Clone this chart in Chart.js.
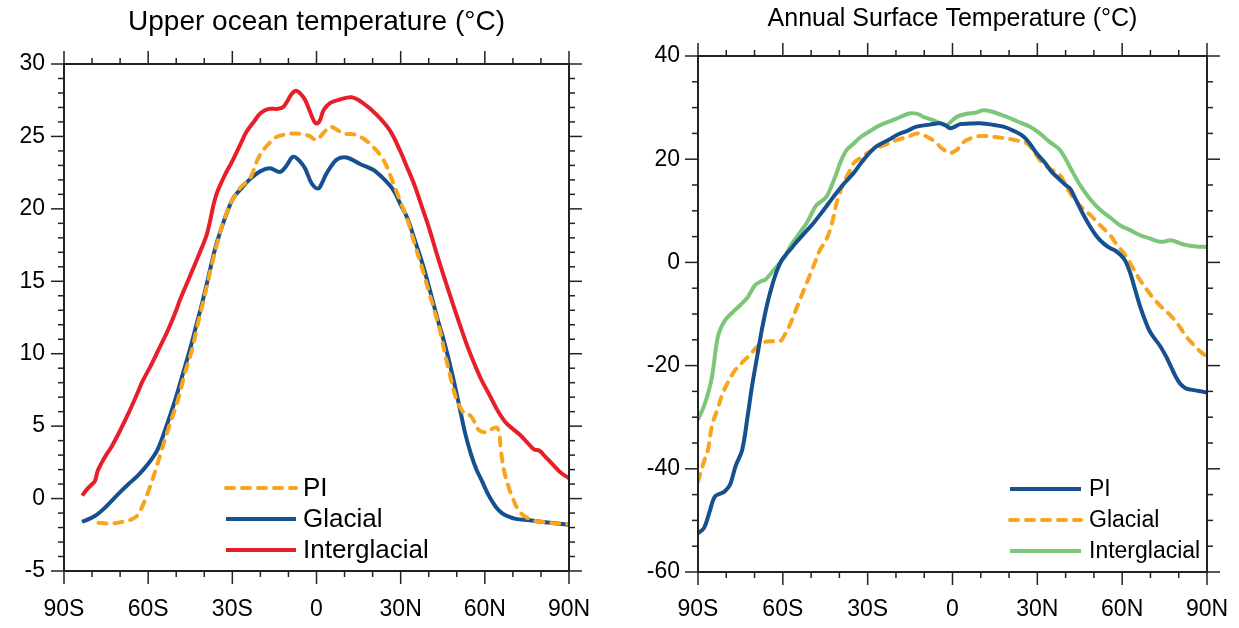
<!DOCTYPE html>
<html lang="en">
<head>
  <meta charset="UTF-8" />
  <title>Zonal mean temperature</title>
  <script src="https://cdn.jsdelivr.net/npm/chart.js"></script>
  <style>
    body { margin: 0; background: #fff; }
    .panel { position: absolute; top: 0; }
  </style>
</head>
<body>
  <div class="panel" style="left:0"><canvas id="oceanChart" width="620" height="628"></canvas></div>
  <div class="panel" style="left:620px"><canvas id="surfaceChart" width="619" height="628"></canvas></div>

  <script>
    // Latitude tick labels (shared by both panels)
    const latTicks = [-90, -60, -30, 0, 30, 60, 90];
    const latNames = ['90S', '60S', '30S', '0', '30N', '60N', '90N'];

    // --- Upper ocean temperature ---
    const oceanPiLat = [-77.7, -75, -72, -69, -67.9, -65.5, -63.6, -62, -60.1, -58.5, -57.3, -55.2, -52.5, -49.4, -47, -44.4, -42, -40, -37.5, -35, -33, -30, -27, -23.7, -21, -19, -16.5, -14.2, -12, -9.5, -7, -4.7, -2.3, 0, 2.3, 4.8, 7, 9.5, 14.3, 19, 23.8, 27.4, 29.7, 32.5, 35.1, 37.8, 40.4, 42.3, 44, 46, 47.6, 49, 50, 51.8, 53.3, 54.7, 56, 57.5, 59, 61, 62.5, 64.3, 65.2, 65.7, 67, 68.8, 70, 71.6, 74, 77.2, 80, 84.3, 90];
    const oceanPi = [-1.67, -1.72, -1.7, -1.6, -1.55, -1.4, -1.1, -0.5, 0.4, 1.3, 2.0, 3.35, 5.0, 6.8, 8.6, 10.25, 12.3, 13.9, 16.0, 17.9, 19.2, 20.6, 21.5, 22.1, 23.4, 24.05, 24.6, 24.97, 25.1, 25.2, 25.2, 25.16, 25.0, 24.75, 25.2, 25.66, 25.5, 25.2, 25.1, 24.5, 23.4, 21.75, 20.6, 19.2, 17.5, 15.8, 14.05, 12.8, 11.6, 9.8, 8.5, 7.4, 6.8, 6.1, 5.8, 5.75, 5.4, 4.8, 4.6, 4.6, 4.8, 4.9, 4.4, 3.35, 1.8, 0.6, 0.0, -0.67, -1.2, -1.5, -1.6, -1.7, -1.75];

    const oceanGlacialLat = [-83.6, -81, -78.5, -75.5, -72.5, -70, -67, -63.6, -60, -56.6, -53.5, -50.4, -47.5, -45.1, -42.8, -40.5, -38.3, -36.2, -34, -31.6, -29.5, -27.3, -24, -20, -16.6, -13, -11, -8.3, -6, -4.1, -1.7, 0.6, 2, 3.6, 7.2, 10.7, 15.5, 20.2, 23.8, 27.4, 29.7, 32.5, 35.1, 37.8, 40.4, 43, 45.8, 48.5, 51.1, 53, 55, 57, 59, 60.4, 62, 64, 66.1, 68.5, 71, 75.9, 80, 85, 90];
    const oceanGlacial = [-1.6, -1.4, -1.15, -0.65, -0.05, 0.45, 1.0, 1.6, 2.4, 3.4, 5.0, 6.8, 8.7, 10.3, 12.0, 13.7, 15.5, 17.2, 18.6, 19.9, 20.8, 21.3, 22.0, 22.6, 22.8, 22.55, 22.9, 23.6, 23.3, 22.8, 21.75, 21.4, 21.8, 22.45, 23.4, 23.55, 23.1, 22.7, 22.1, 21.3, 20.4, 19.3, 17.8, 16.2, 14.4, 12.5, 10.6, 8.5, 6.2, 4.5, 3.1, 2.0, 1.2, 0.6, 0.0, -0.6, -1.0, -1.25, -1.4, -1.5, -1.6, -1.7, -1.8];

    const oceanInterLat = [-83.5, -82, -80.5, -79, -78, -76.5, -75, -73, -70, -67, -64, -62, -59, -56.5, -53, -50, -48.7, -45, -42, -39, -36, -33, -30, -27, -25, -22, -20, -17, -14, -12, -10.5, -9, -7.3, -5.5, -4, -2.5, -1, 0, 1.2, 2.5, 4.8, 8.4, 12.5, 16.6, 21.4, 26.2, 29.7, 32, 35, 38, 40.4, 43, 45.8, 48.5, 51.1, 54, 56.5, 59, 61.8, 64.5, 67.2, 70, 72.5, 75, 77.5, 79.5, 81.5, 84, 87, 90];
    const oceanInter = [0.2, 0.6, 0.9, 1.2, 1.9, 2.5, 3.0, 3.6, 4.7, 5.9, 7.2, 8.1, 9.2, 10.2, 11.6, 13.0, 13.7, 15.4, 16.8, 18.3, 20.8, 22.2, 23.3, 24.5, 25.3, 26.1, 26.6, 26.9, 26.9, 27.0, 27.4, 27.9, 28.15, 27.9, 27.5, 26.8, 26.1, 25.9, 26.1, 26.8, 27.3, 27.55, 27.7, 27.3, 26.5, 25.4, 24.05, 23.0, 21.6, 19.9, 18.5, 16.8, 15.1, 13.5, 12.0, 10.4, 9.2, 8.1, 7.1, 6.1, 5.3, 4.8, 4.4, 3.9, 3.4, 3.3, 2.9, 2.4, 1.8, 1.4];

    // --- Annual surface temperature ---
    const surfPiLat = [-90, -87.9, -86, -84.1, -82, -80.6, -78.7, -77.5, -76.6, -74.4, -72.5, -70.9, -69, -67.4, -65.5, -63.8, -62, -60.3, -58.5, -57.5, -55.7, -53, -49.2, -45.5, -42.1, -38.5, -35, -32, -28, -25.6, -22, -19.7, -16, -12.7, -8, -4.4, -2, -0.9, 0.5, 2.7, 6, 9.7, 14, 18, 22, 25.1, 27.5, 29.8, 32.7, 35, 38, 40, 41.6, 43.3, 45.1, 46.9, 48.7, 50.5, 52.2, 55, 57.5, 59.5, 61.1, 62.8, 64.6, 66.4, 68.1, 70, 73.4, 75.5, 77, 79, 80.5, 82.5, 85.8, 88, 90];
    const surfPi = [-52.5, -51.5, -48.5, -45.4, -44.8, -44.4, -43.1, -41.0, -39.3, -36.4, -30, -24, -18, -13, -8, -4.5, -1.5, 0.5, 1.8, 2.4, 3.6, 5.3, 7.6, 10.2, 12.7, 15.2, 17.3, 19.5, 22.0, 22.9, 23.9, 24.7, 25.5, 26.3, 26.7, 26.95, 26.4, 26.0, 26.2, 26.8, 26.9, 26.95, 26.7, 26.3, 25.4, 24.4, 22.9, 21.1, 19.3, 17.6, 16.0, 15.0, 14.3, 12.5, 10.5, 8.6, 6.9, 5.4, 4.3, 3.0, 2.3, 1.4, 0.3, -2.0, -5.3, -8.6, -11.2, -13.6, -16.2, -18.2, -19.9, -22.2, -23.5, -24.4, -24.8, -25.0, -25.2];

    const surfGlacialLat = [-90, -87.9, -86.5, -85, -83, -81.5, -79, -76.9, -74, -71.6, -69, -66.3, -63.5, -61, -59.5, -57.5, -55.7, -54, -52, -50.4, -49, -46.9, -45, -43.3, -42, -41, -38.6, -36.2, -35, -32.5, -30.3, -28, -25.6, -19.7, -15, -12.7, -9.2, -6, -3.5, -1, 1.5, 3, 5, 8, 10.9, 15, 19.2, 23, 26.2, 28.5, 30.9, 34, 38, 41, 43.3, 46, 48.7, 52, 55.7, 58, 61.1, 63.5, 66.3, 69, 71.6, 74.5, 77, 80, 82.3, 85, 87.5, 90];
    const surfGlacial = [-42.5, -38.6, -36.4, -31.5, -28.3, -25.7, -22.8, -20.9, -19.2, -17.9, -16.3, -15.4, -15.3, -15.3, -14.2, -12.1, -9.6, -7.3, -4.6, -2.4, -0.5, 2.4, 4.0, 6.3, 9.0, 11.5, 15.3, 17.9, 19.2, 20.3, 21.1, 21.8, 22.4, 23.7, 24.5, 25.0, 24.4, 23.3, 22.0, 21.2, 21.8, 22.8, 23.7, 24.3, 24.5, 24.3, 24.0, 23.6, 23.1, 21.8, 19.8, 18.3, 16.9, 14.0, 12.1, 10.5, 9.2, 7.3, 5.3, 3.5, 1.4, -0.8, -3.4, -5.5, -7.3, -9.0, -10.2, -12.2, -14.1, -15.8, -17.2, -18.3];

    const surfInterLat = [-90, -88, -86.5, -85, -83.5, -82.5, -80.4, -78, -75.1, -72.5, -69.8, -67.5, -66.3, -64, -61.7, -60, -59, -57.5, -55, -51.6, -49.5, -48.1, -46, -44.6, -43, -41, -39.8, -37.4, -35, -32.7, -29, -25.6, -20, -15, -12, -10.3, -7, -4.4, -2, -0.5, 1.5, 5, 8, 10.9, 14, 19.2, 23, 27.4, 30.9, 34, 38, 41.5, 45.1, 48.5, 52.2, 56, 59.2, 63, 66.3, 70, 73.4, 75.5, 77, 79, 82.3, 86, 90];
    const surfInter = [-30.5, -28, -25.5, -22, -16, -13.5, -11.2, -9.8, -8.3, -6.8, -4.4, -3.6, -3.4, -2.0, -0.5, 0.6, 1.3, 3.0, 5.0, 7.6, 9.8, 11.1, 12.0, 12.7, 14.5, 17.3, 19.2, 21.8, 23.0, 24.2, 25.5, 26.6, 27.8, 28.9, 28.7, 28.2, 27.6, 27.0, 26.6, 27.3, 28.2, 28.8, 29.0, 29.5, 29.2, 28.2, 27.3, 26.3, 25.0, 23.5, 21.8, 18.5, 15.0, 12.4, 10.2, 8.6, 7.2, 6.2, 5.3, 4.6, 4.0, 4.1, 4.3, 4.0, 3.4, 3.1, 3.0];

    const ORANGE = '#f7a51f';
    const BLUE = '#17508e';
    const RED = '#e61f2a';
    const GREEN = '#7cc67a';
    const FONT = '"Liberation Sans", Arial, sans-serif';

    Chart.defaults.font.family = FONT;
    Chart.defaults.color = '#000';

    function pairs(lat, vals) {
      return lat.map((v, i) => ({ x: v, y: vals[i] }));
    }

    function series(label, lat, vals, color, dashed) {
      return {
        label: label,
        data: pairs(lat, vals),
        borderColor: color,
        borderWidth: 4,
        borderDash: dashed ? [8, 8] : [],
        borderCapStyle: dashed ? 'round' : 'butt',
        pointRadius: 0,
        tension: 0.35,
        fill: false
      };
    }

    // box, outward ticks on all four sides, title and an in-plot legend
    const framePlugin = {
      id: 'frame',
      afterDatasetsDraw(chart, args, opts) {
        const { ctx, chartArea: a, scales: { x, y } } = chart;
        ctx.save();
        ctx.strokeStyle = '#222';
        ctx.lineWidth = 2;
        ctx.setLineDash([]);
        ctx.strokeRect(a.left, a.top, a.right - a.left, a.bottom - a.top);

        const seg = (x0, y0, x1, y1) => {
          ctx.beginPath(); ctx.moveTo(x0, y0); ctx.lineTo(x1, y1); ctx.stroke();
        };
        ctx.lineWidth = 1.5;
        for (let v = x.min; v <= x.max; v += opts.xMinor) {
          const len = (v % opts.xMajor === 0) ? 13 : 6;
          const px = x.getPixelForValue(v);
          seg(px, a.top, px, a.top - len);
          seg(px, a.bottom, px, a.bottom + len);
        }
        for (let v = y.min; v <= y.max; v += opts.yMinor) {
          const len = (v % opts.yMajor === 0) ? 13 : 6;
          const py = y.getPixelForValue(v);
          seg(a.left, py, a.left - len, py);
          seg(a.right, py, a.right + len, py);
        }

        // title
        ctx.fillStyle = '#000';
        ctx.textAlign = 'center';
        ctx.textBaseline = 'middle';
        ctx.font = opts.titleSize + 'px ' + FONT;
        ctx.fillText(opts.title, (a.left + a.right) / 2, opts.titleY);

        // legend
        const lg = opts.legend;
        ctx.font = lg.size + 'px ' + FONT;
        ctx.textAlign = 'left';
        chart.data.datasets.forEach((ds, i) => {
          const ly = lg.y + i * lg.dy;
          ctx.strokeStyle = ds.borderColor;
          ctx.lineWidth = 4;
          ctx.lineCap = ds.borderCapStyle;
          ctx.setLineDash(ds.borderDash);
          seg(lg.x0, ly, lg.x1, ly);
          ctx.setLineDash([]);
          ctx.fillText(ds.label, lg.x1 + lg.gap, ly + 1);
        });
        ctx.restore();
      }
    };

    function makeChart(id, cfg) {
      return new Chart(document.getElementById(id), {
        type: 'line',
        data: { datasets: cfg.datasets },
        options: {
          responsive: false,
          animation: false,
          devicePixelRatio: 1,
          layout: { padding: { top: cfg.top, right: cfg.right, left: 0, bottom: 0 } },
          plugins: {
            legend: { display: false },
            tooltip: { enabled: false },
            title: { display: false },
            frame: cfg.frame
          },
          scales: {
            x: {
              type: 'linear',
              min: -90, max: 90,
              afterFit: s => {
                s.height = cfg.xHeight;
                s.paddingLeft = 0;
                s.paddingRight = 0;
              },
              afterBuildTicks: s => { s.ticks = latTicks.map(v => ({ value: v })); },
              ticks: {
                font: { size: 23 },
                padding: cfg.xPad,
                maxRotation: 0,
                autoSkip: false,
                callback: v => latNames[latTicks.indexOf(v)]
              },
              grid: { display: false, drawTicks: false },
              border: { display: false }
            },
            y: {
              min: cfg.yMin, max: cfg.yMax,
              afterFit: s => { s.width = cfg.yWidth; },
              ticks: { stepSize: cfg.yStep, font: { size: 23 }, padding: cfg.yPad },
              grid: { display: false, drawTicks: false },
              border: { display: false }
            }
          }
        },
        plugins: [framePlugin]
      });
    }

    makeChart('oceanChart', {
      datasets: [
        series('PI', oceanPiLat, oceanPi, ORANGE, true),
        series('Glacial', oceanGlacialLat, oceanGlacial, BLUE, false),
        series('Interglacial', oceanInterLat, oceanInter, RED, false)
      ],
      top: 64, right: 51, xHeight: 57, yWidth: 64,
      xPad: 25, yPad: 19,
      yMin: -5, yMax: 30, yStep: 5,
      frame: {
        title: 'Upper ocean temperature (°C)', titleSize: 28, titleY: 22,
        xMajor: 30, xMinor: 10, yMajor: 5, yMinor: 1,
        legend: { x0: 226, x1: 296, gap: 7, y: 488, dy: 31, size: 26 }
      }
    });

    makeChart('surfaceChart', {
      datasets: [
        series('PI', surfPiLat, surfPi, BLUE, false),
        series('Glacial', surfGlacialLat, surfGlacial, ORANGE, true),
        series('Interglacial', surfInterLat, surfInter, GREEN, false)
      ],
      top: 56, right: 32, xHeight: 56, yWidth: 78,
      xPad: 24, yPad: 18,
      yMin: -60, yMax: 40, yStep: 20,
      frame: {
        title: 'Annual Surface Temperature (°C)', titleSize: 25, titleY: 19,
        xMajor: 30, xMinor: 10, yMajor: 20, yMinor: 5,
        legend: { x0: 390, x1: 461, gap: 8, y: 489, dy: 31, size: 23 }
      }
    });
  </script>
</body>
</html>
